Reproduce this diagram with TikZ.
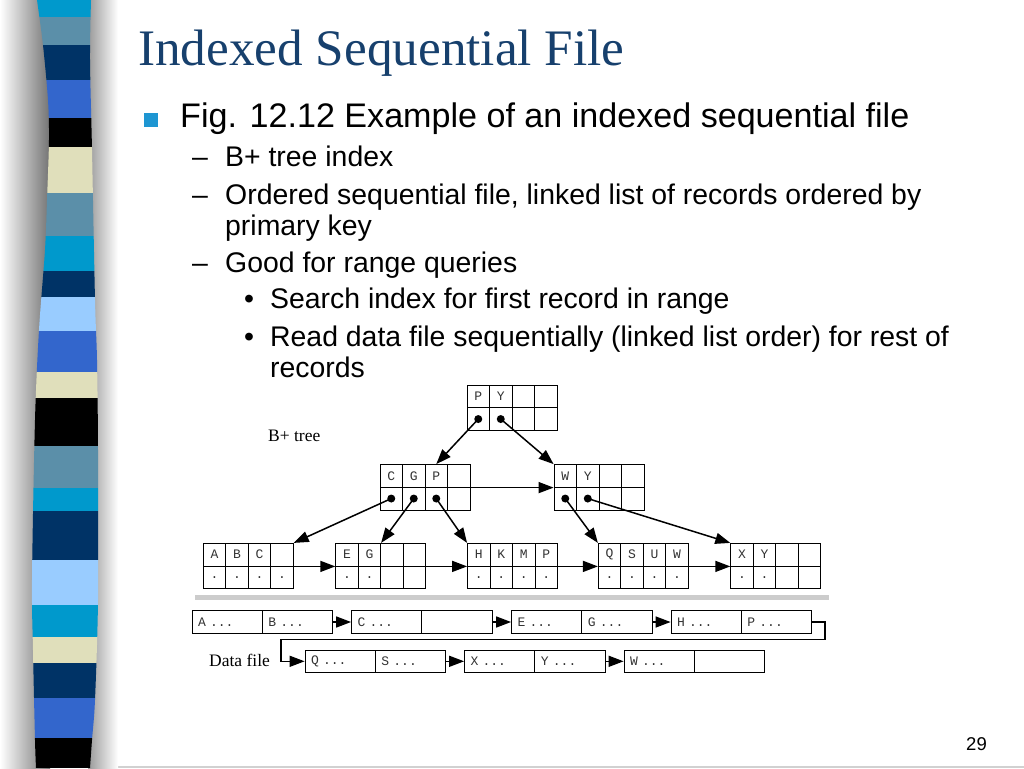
\documentclass[tikz,border=0pt]{standalone}
\usepackage{fontspec}
\setmainfont{Liberation Serif}
\newfontfamily\slideSans{Liberation Sans}
\newfontfamily\slideMono{Liberation Mono}
\usetikzlibrary{arrows.meta}
\definecolor{titleNavy}{HTML}{17406D}
\definecolor{bulletBlue}{HTML}{1E96D2}
\definecolor{barCyan}{HTML}{0099CC}
\definecolor{barSteel}{HTML}{5B8FA9}
\definecolor{barNavy}{HTML}{003366}
\definecolor{barRoyal}{HTML}{3366CC}
\definecolor{barBeige}{HTML}{E0DFBB}
\definecolor{barSky}{HTML}{99CCFF}
\definecolor{barBlack}{HTML}{000000}

\tikzset{
  cellBox/.style={draw, line width=0.8pt, minimum width=22.5pt, minimum height=22.7pt,
    inner sep=0pt, text=black!80, font=\slideMono\fontsize{13}{13}\selectfont},
  recBox/.style={draw, line width=0.8pt, minimum height=22.6pt, text width=58.3pt,
    inner xsep=6pt, inner ysep=0pt, align=left, text=black!80,
    font=\slideMono\fontsize{13}{13}\selectfont},
  linkArrow/.style={line width=1.5pt, -{Triangle[length=15pt,width=11pt]}},
  levelOne/.style={anchor=base west, inner sep=0pt, font=\slideSans\fontsize{34.1}{40}\selectfont},
  levelTwo/.style={anchor=base west, inner sep=0pt, font=\slideSans\fontsize{28.4}{34}\selectfont},
  figLabel/.style={anchor=base west, inner sep=0pt, font=\fontsize{17.5}{20}\selectfont}
}

\newcommand{\treeNode}[4]{%
  \foreach \k/\b [count=\i] in {#4}{
    \node[cellBox] (#1-k\i) at ({#2+(\i-0.5)*22.5}, {#3+11.35}) {\k};
    \node[cellBox] (#1-p\i) at ({#2+(\i-0.5)*22.5}, {#3+34.05}) {\b};
  }}
\newcommand{\recPair}[6]{%
  \node[recBox] (#1) at ({#3+35.15}, #4) {#5};
  \node[recBox] (#2) at ({#3+105.45}, #4) {#6};}

\begin{document}
\begin{tikzpicture}[x=1pt, y=-1pt]
  \useasboundingbox (0,0) rectangle (1024,768);
  \fill[white] (0,0) rectangle (1024,768);
  \fill[black!18] (0,765.5) rectangle (1024,768);

  \shade[left color=white, right color=black!55] (0,0) rectangle (50,768);
  \shade[left color=black!40, right color=white] (88,0) rectangle (118,768);
  \begin{scope}
    \clip plot[smooth] coordinates {(37,0) (43,45) (48,100) (49,140) (47,200) (45,250) (39,330) (35,420) (32,580) (33,650) (35,740) (36,768)}
      -- plot[smooth] coordinates {(90,768) (92,740) (95,700) (98,600) (98,450) (97,360) (95,300) (92,150) (90,60) (91,0)} -- cycle;
    \foreach \ya/\yb/\c in {0/17/barCyan, 17/45/barSteel, 45/80/barNavy, 80/118/barRoyal,
        118/147/barBlack, 147/193/barBeige, 193/236/barSteel, 236/271/barCyan,
        271/297/barNavy, 297/331/barSky, 331/372/barRoyal, 372/398/barBeige,
        398/446/barBlack, 446/488/barSteel, 488/511/barCyan, 511/560/barNavy,
        560/605/barSky, 605/637/barCyan, 637/663/barBeige, 663/698/barNavy,
        698/738/barRoyal, 738/768/barBlack}
      \fill[\c] (20,\ya) rectangle (110,\yb);
  \end{scope}

  \node[anchor=base west, inner sep=0pt, text=titleNavy, font=\fontsize{51.2}{60}\selectfont]
    (title) at (138,65) {Indexed Sequential File};
  \fill[bulletBlue] (143.5,113.3) rectangle (158.3,127);
  \node[levelOne] (figLine) at (180,127) {Fig. 12.12 Example of an indexed sequential file};
  \node[levelTwo] (dashA) at (192,166) {–};
  \node[levelTwo] (itemA) at (225,166) {B+ tree index};
  \node[levelTwo] (dashB) at (192,204) {–};
  \node[levelTwo] (itemB) at (225,204) {Ordered sequential file, linked list of records ordered by};
  \node[levelTwo] (itemBb) at (225,235) {primary key};
  \node[levelTwo] (dashC) at (192,272) {–};
  \node[levelTwo] (itemC) at (225,272) {Good for range queries};
  \node[levelTwo] (dotA) at (244,308) {•};
  \node[levelTwo] (subA) at (270,308) {Search index for first record in range};
  \node[levelTwo] (dotB) at (244,346) {•};
  \node[levelTwo] (subB) at (270,346) {Read data file sequentially (linked list order) for rest of};
  \node[levelTwo] (subBb) at (270,377) {records};
  \node[anchor=base west, inner sep=0pt, font=\slideSans\fontsize{18.5}{20}\selectfont]
    (pageNo) at (966,750) {29};

  \treeNode{root}{467}{385}{P/{}, Y/{}, {}/{}, {}/{}}
  \treeNode{cgp}{380}{464.5}{C/{}, G/{}, P/{}, {}/{}}
  \treeNode{wy}{554}{464.5}{W/{}, Y/{}, {}/{}, {}/{}}
  \treeNode{abc}{203.3}{543.3}{A/., B/., C/., {}/.}
  \treeNode{eg}{335.7}{543.3}{E/., G/., {}/{}, {}/{}}
  \treeNode{hkmp}{467.5}{543.3}{H/., K/., M/., P/.}
  \treeNode{qsuw}{598.3}{543.3}{Q/., S/., U/., W/.}
  \treeNode{xy}{730.7}{543.3}{X/., Y/., {}/{}, {}/{}}
  \node[figLabel] (treeLabel) at (268,441) {B+ tree};

  \draw[linkArrow] (root-p1.center) -- (cgp-k3.north);
  \draw[linkArrow] (root-p2.center) -- (wy-k1.north west);
  \draw[linkArrow] (cgp-k4.south east) -- (wy-k1.south west);
  \draw[linkArrow] (cgp-p1.center) -- (abc-k4.north east);
  \draw[linkArrow] (cgp-p2.center) -- (eg-k2.north east);
  \draw[linkArrow] (cgp-p3.center) -- (hkmp-k1.north west);
  \draw[linkArrow] (wy-p1.center) -- (qsuw-k1.north west);
  \draw[linkArrow] (wy-p2.center) -- (xy-k1.north west);
  \draw[linkArrow] (abc-k4.south east) -- (eg-k1.south west);
  \draw[linkArrow] (eg-k4.south east) -- (hkmp-k1.south west);
  \draw[linkArrow] (hkmp-k4.south east) -- (qsuw-k1.south west);
  \draw[linkArrow] (qsuw-k4.south east) -- (xy-k1.south west);
  \foreach \p in {root-p1, root-p2, cgp-p1, cgp-p2, cgp-p3, wy-p1, wy-p2}
    \fill (\p.center) circle (4);

  \fill[black!20] (195,594.5) rectangle (829,599.5);

  \recPair{recA}{recB}{192}{622}{A ...}{B ...}
  \recPair{recC}{recCx}{351.5}{622}{C ...}{}
  \recPair{recE}{recG}{511.5}{622}{E ...}{G ...}
  \recPair{recH}{recP}{671}{622}{H ...}{P ...}
  \recPair{recQ}{recS}{305}{661.3}{Q ...}{S ...}
  \recPair{recX}{recY}{464.5}{661.3}{X ...}{Y ...}
  \recPair{recW}{recWx}{624}{661.3}{W ...}{}
  \node[figLabel] (dataLabel) at (209,666.5) {Data file};

  \coordinate (turnR) at (825,639.3);
  \coordinate (turnL) at (281,639.3);
  \draw[linkArrow] (recB.east) -- (recC.west);
  \draw[linkArrow] (recCx.east) -- (recE.west);
  \draw[linkArrow] (recG.east) -- (recH.west);
  \draw[linkArrow] (recP.east) -| (turnR) -- (turnL) |- (recQ.west);
  \draw[linkArrow] (recS.east) -- (recX.west);
  \draw[linkArrow] (recY.east) -- (recW.west);
\end{tikzpicture}
\end{document}
